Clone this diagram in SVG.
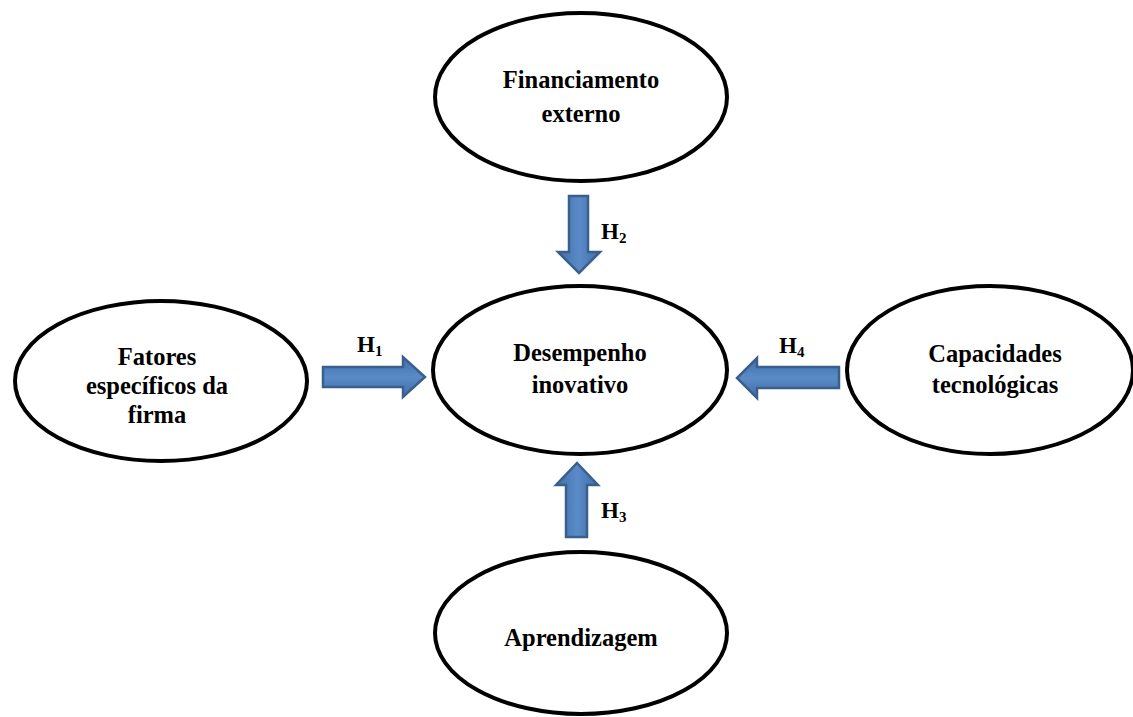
<svg xmlns="http://www.w3.org/2000/svg" width="1133" height="717" viewBox="0 0 1133 717">
<style>
.node ellipse{fill:#fff;stroke:#000;stroke-width:4}
.node text,.lbl{font-family:"Liberation Serif","Times New Roman",serif;font-weight:bold;font-size:24.5px;fill:#000;text-anchor:middle}
.lbl{text-anchor:start;font-size:23px}
.sub{font-size:15px}
.arr{stroke:#3A5F8C;stroke-width:2.5;stroke-linejoin:miter}
</style>
<defs>
<linearGradient id="gv" x1="0" y1="0" x2="1" y2="0">
<stop offset="0" stop-color="#3F6EA8"/><stop offset="0.5" stop-color="#5A8BC8"/><stop offset="1" stop-color="#3F6EA8"/>
</linearGradient>
<linearGradient id="gh" x1="0" y1="0" x2="0" y2="1">
<stop offset="0" stop-color="#3F6EA8"/><stop offset="0.5" stop-color="#5A8BC8"/><stop offset="1" stop-color="#3F6EA8"/>
</linearGradient>
</defs>
<rect width="1133" height="717" fill="#fff"/>
<g id="connectors">
<polygon class="arr" fill="url(#gv)" points="569,196 588,196 588,252 600,252 579,273 558,252 569,252"/>
<polygon class="arr" fill="url(#gh)" points="323,367 403,367 403,357 425,377 403,397 403,387 323,387"/>
<polygon class="arr" fill="url(#gh)" points="839,367 757,367 757,358 737,378 757,398 757,388 839,388"/>
<polygon class="arr" fill="url(#gv)" points="566,537 566,485 556,485 577,463 598,485 587,485 587,537"/>
<text class="lbl" x="601" y="239">H<tspan class="sub" dy="4">2</tspan></text>
<text class="lbl" x="357" y="352">H<tspan class="sub" dy="4">1</tspan></text>
<text class="lbl" x="779" y="353">H<tspan class="sub" dy="4">4</tspan></text>
<text class="lbl" x="601" y="518">H<tspan class="sub" dy="4">3</tspan></text>
</g>
<g id="financiamento" class="node">
<ellipse cx="581" cy="97" rx="146" ry="84"/>
<text x="581" y="88">Financiamento</text>
<text x="581" y="122">externo</text>
</g>
<g id="fatores" class="node">
<ellipse cx="161" cy="381" rx="146" ry="80"/>
<text x="157" y="365">Fatores</text>
<text x="157" y="394">específicos da</text>
<text x="157" y="423">firma</text>
</g>
<g id="desempenho" class="node">
<ellipse cx="580" cy="370" rx="147" ry="84"/>
<text x="580" y="361">Desempenho</text>
<text x="580" y="393">inovativo</text>
</g>
<g id="capacidades" class="node">
<ellipse cx="990" cy="370" rx="143" ry="84"/>
<text x="995" y="362">Capacidades</text>
<text x="995" y="393">tecnológicas</text>
</g>
<g id="aprendizagem" class="node">
<ellipse cx="581" cy="633" rx="146" ry="81"/>
<text x="581" y="646">Aprendizagem</text>
</g>
</svg>
